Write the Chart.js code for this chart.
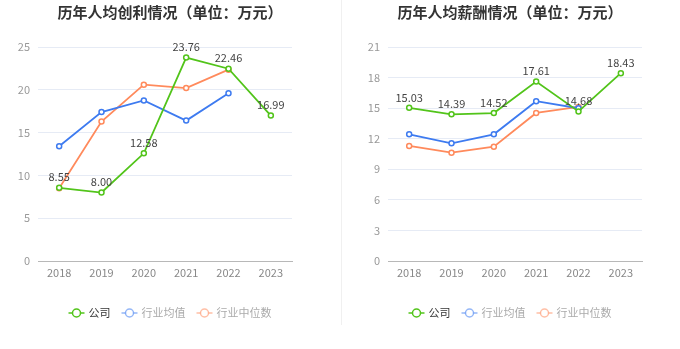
<!DOCTYPE html>
<html>
<head>
<meta charset="utf-8">
<script src="https://cdn.jsdelivr.net/npm/chart.js@4/dist/chart.umd.min.js"></script>
<style>
  html, body { margin: 0; padding: 0; background: #fff; }
  #wrap { position: relative; width: 680px; height: 349px; }
  #left { position: absolute; left: 0; top: 0; }
  #right { position: absolute; left: 342px; top: 0; }
  #divider { position: absolute; left: 341px; top: 0; width: 1px; height: 325px; background: #f0f0f0; }
</style>
</head>
<body>
<div id="wrap">
  <canvas id="left" width="341" height="349"></canvas>
  <div id="divider"></div>
  <canvas id="right" width="338" height="349"></canvas>
</div>
<script>
const years = ["2018", "2019", "2020", "2021", "2022", "2023"]
const seriesNames = ["公司", "行业均值", "行业中位数"]

// 人均创利
const profitCompany = [8.55, 8.00, 12.58, 23.76, 22.46, 16.99]
const profitAvg = [13.4, 17.4, 18.75, 16.4, 19.6, null]
const profitMedian = [8.5, 16.3, 20.6, 20.2, 22.35, null]

// 人均薪酬
const salaryCompany = [15.03, 14.39, 14.52, 17.61, 14.68, 18.43]
const salaryAvg = [12.43, 11.55, 12.43, 15.68, 14.99, null]
const salaryMedian = [11.29, 10.63, 11.22, 14.53, 15.12, null]

const colors = ["#52c41a", "#3e7bf0", "#ff8a5c"]
const fadedColors = ["#52c41a", "rgba(62,123,240,0.55)", "rgba(255,138,92,0.55)"]
const FONT = '"Noto Sans CJK SC", "Noto Sans", sans-serif'

function makeDataset(label, data, color) {
    return {
        label: label,
        data: data,
        borderColor: color,
        backgroundColor: "#fff",
        pointBackgroundColor: "#fff",
        pointBorderColor: color,
        pointRadius: 2.5,
        pointBorderWidth: 1.5,
        borderWidth: 1.8,
        tension: 0,
        fill: false,
        spanGaps: false
    }
}

// title, value labels and legend drawn on the canvas
const extras = {
    id: "extras",
    afterDatasetsDraw(chart, args, opts) {
        const ctx = chart.ctx
        const cx = opts.centerX
        ctx.save()
        ctx.font = "bold 15px " + FONT
        ctx.fillStyle = "#333"
        ctx.textAlign = "center"
        ctx.textBaseline = "middle"
        ctx.fillText(opts.title, cx, 12)

        // company value labels
        const meta = chart.getDatasetMeta(0)
        ctx.font = "11px " + FONT
        ctx.fillStyle = "#444"
        ctx.textBaseline = "bottom"
        meta.data.forEach((pt, i) => {
            const v = chart.data.datasets[0].data[i]
            if (v == null) return
            ctx.fillText(v.toFixed(2), pt.x, pt.y - 5)
        })

        // legend
        ctx.font = "11px " + FONT
        ctx.textBaseline = "middle"
        ctx.textAlign = "left"
        const y = 313
        const items = seriesNames.map((n, i) => ({ name: n, w: ctx.measureText(n).width }))
        const iconW = 16, gap = 4, itemGap = 11
        let total = 0
        items.forEach((it, i) => { total += iconW + gap + it.w + (i < items.length - 1 ? itemGap : 0) })
        let x = cx - total / 2
        items.forEach((it, i) => {
            const c = fadedColors[i]
            ctx.strokeStyle = c
            ctx.lineWidth = 1.5
            ctx.beginPath()
            ctx.moveTo(x, y)
            ctx.lineTo(x + iconW, y)
            ctx.stroke()
            ctx.beginPath()
            ctx.arc(x + iconW / 2, y, 4, 0, Math.PI * 2)
            ctx.fillStyle = "#fff"
            ctx.fill()
            ctx.stroke()
            ctx.fillStyle = i === 0 ? "#333" : "#aaa"
            ctx.fillText(it.name, x + iconW + gap, y)
            x += iconW + gap + it.w + itemGap
        })
        ctx.restore()
    }
}

function makeChart(id, title, centerX, datasets, max, step, yWidth, padRight) {
    return new Chart(document.getElementById(id), {
        type: "line",
        data: { labels: years, datasets: datasets },
        options: {
            responsive: false,
            animation: false,
            layout: { padding: { left: 0, right: padRight, top: 47, bottom: 68 } },
            plugins: {
                legend: { display: false },
                tooltip: { enabled: false },
                extras: { title: title, centerX: centerX }
            },
            scales: {
                x: {
                    offset: true,
                    grid: { display: false, drawTicks: false },
                    border: { color: "#b8b8b8", width: 1 },
                    ticks: { color: "#888", font: { size: 11, family: FONT }, padding: 5 },
                    afterFit: s => { s.height = 20 }
                },
                y: {
                    min: 0,
                    max: max,
                    ticks: { stepSize: step, color: "#999", font: { size: 11, family: FONT }, padding: 8 },
                    grid: { color: "#e6ebf5", drawTicks: false },
                    border: { display: false },
                    afterFit: s => { s.width = yWidth }
                }
            }
        },
        plugins: [extras]
    })
}

makeChart("left", "历年人均创利情况（单位：万元）", 170, [
    makeDataset(seriesNames[0], profitCompany, colors[0]),
    makeDataset(seriesNames[1], profitAvg, colors[1]),
    makeDataset(seriesNames[2], profitMedian, colors[2])
], 25, 5, 38, 49)

makeChart("right", "历年人均薪酬情况（单位：万元）", 168, [
    makeDataset(seriesNames[0], salaryCompany, colors[0]),
    makeDataset(seriesNames[1], salaryAvg, colors[1]),
    makeDataset(seriesNames[2], salaryMedian, colors[2])
], 21, 3, 46, 38)
</script>
</body>
</html>
